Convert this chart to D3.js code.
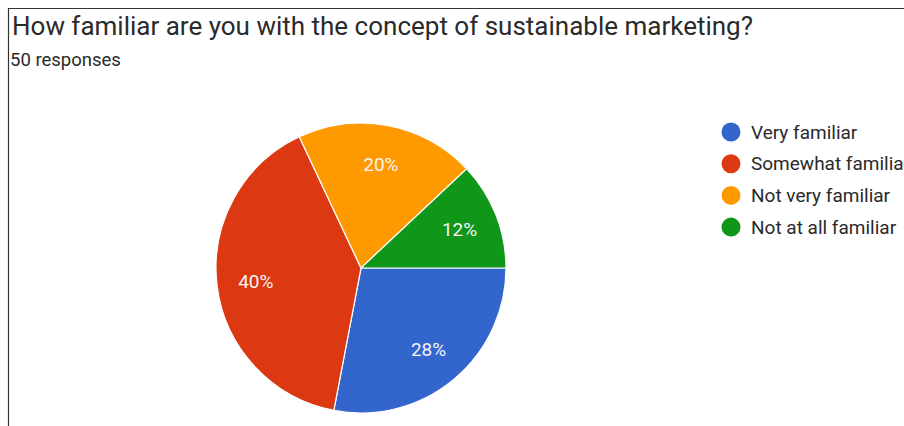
<!DOCTYPE html>
<html>
<head>
<meta charset="utf-8">
<script src="https://cdn.jsdelivr.net/npm/d3@7"></script>
<style>
  body { margin: 0; background: #fff; }
  svg { display: block; font-family: Roboto, Arial, sans-serif; }
</style>
</head>
<body>
<div id="chart"></div>
<script>
const categories = ['Very familiar', 'Somewhat familiar', 'Not very familiar', 'Not at all familiar'];
const percents = [28, 40, 20, 12];
const colors = ['#3366cc', '#dc3912', '#ff9900', '#109618'];

const width = 904;
const height = 426;
const cx = 361;
const cy = 268;
const radius = 145;

const svg = d3.select('#chart').append('svg')
  .attr('width', width)
  .attr('height', height);

// frame lines (top + left)
svg.append('line')
  .attr('x1', 8).attr('x2', width).attr('y1', 8.5).attr('y2', 8.5)
  .attr('stroke', '#333').attr('stroke-width', 1.2);
svg.append('line')
  .attr('x1', 8.5).attr('x2', 8.5).attr('y1', 8).attr('y2', height)
  .attr('stroke', '#333').attr('stroke-width', 1.2);

svg.append('text')
  .attr('x', 12)
  .attr('y', 35)
  .attr('fill', '#2a2a2a')
  .attr('font-size', 26)
  .text('How familiar are you with the concept of sustainable marketing?');

svg.append('text')
  .attr('x', 10)
  .attr('y', 66)
  .attr('fill', '#2a2a2a')
  .attr('font-size', 18.5)
  .text('50 responses');

const data = categories.map((c, i) => ({ key: c, value: percents[i], color: colors[i] }));

const pie = d3.pie()
  .sort(null)
  .value(d => d.value)
  .startAngle(Math.PI / 2)
  .endAngle(Math.PI / 2 + 2 * Math.PI);

const arc = d3.arc().innerRadius(0).outerRadius(radius);
const labelArc = d3.arc().innerRadius(106).outerRadius(106);

const g = svg.append('g')
  .attr('transform', `translate(${cx},${cy})`);

const slices = g.selectAll('.slice')
  .data(pie(data))
  .enter()
  .append('g')
  .attr('class', 'slice');

slices.append('path')
  .attr('d', arc)
  .attr('fill', d => d.data.color)
  .attr('stroke', '#fff')
  .attr('stroke-width', 1.2);

slices.append('text')
  .attr('transform', d => `translate(${labelArc.centroid(d)})`)
  .attr('text-anchor', 'middle')
  .attr('dy', '0.35em')
  .attr('fill', '#f4f4f4')
  .attr('font-size', 19)
  .text(d => `${d.data.value}%`);

// legend
const legend = svg.append('g')
  .attr('transform', 'translate(731,132)');

const item = legend.selectAll('.item')
  .data(data)
  .enter()
  .append('g')
  .attr('class', 'item')
  .attr('transform', (d, i) => `translate(0,${i * 31.7})`);

item.append('circle')
  .attr('r', 9.5)
  .attr('fill', d => d.color);

item.append('text')
  .attr('x', 20)
  .attr('dy', '0.35em')
  .attr('fill', '#2a2a2a')
  .attr('font-size', 19)
  .text(d => d.key);
</script>
</body>
</html>
